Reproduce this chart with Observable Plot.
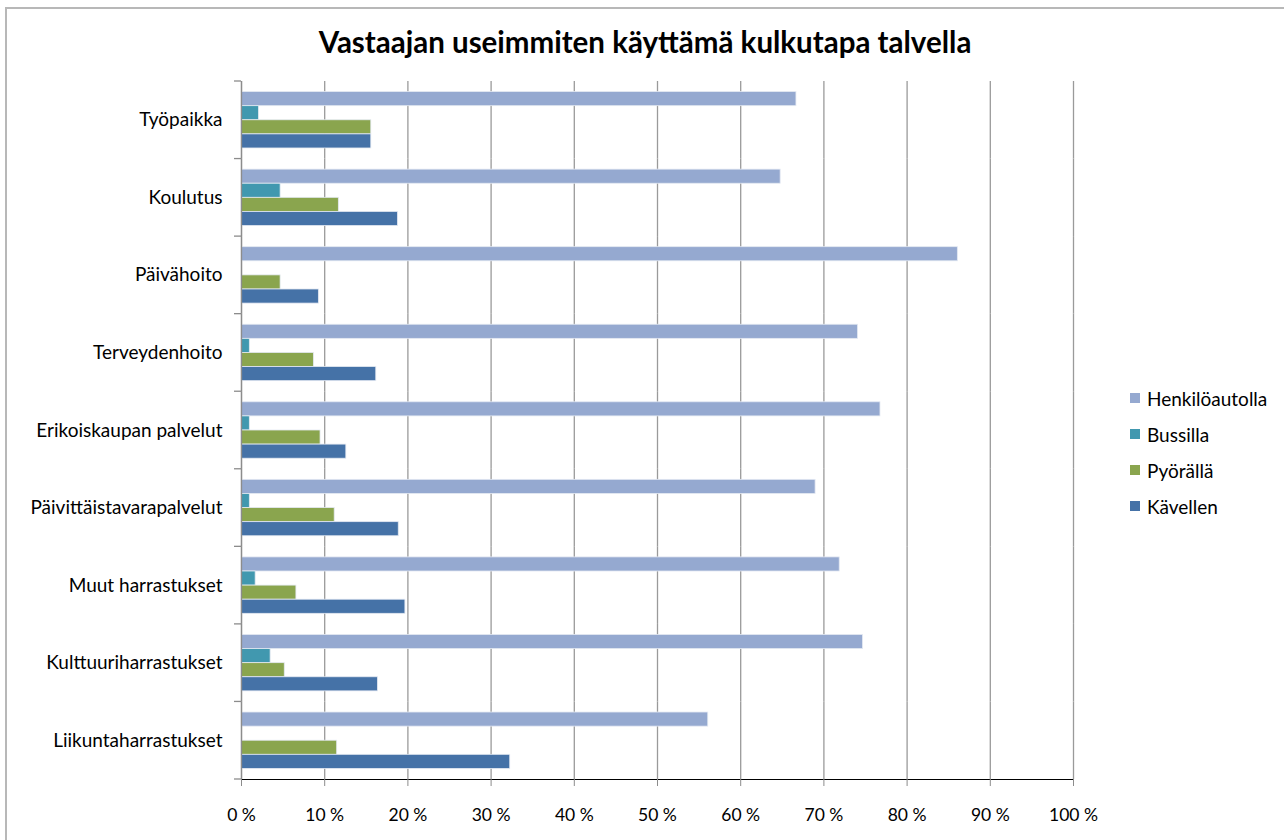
<!DOCTYPE html>
<html>
<head>
<meta charset="utf-8">
<script src="https://cdn.jsdelivr.net/npm/d3@7"></script>
<script src="https://cdn.jsdelivr.net/npm/@observablehq/plot@0.6"></script>
<style>
  body { margin: 0; background: #fff; }
  #wrap { position: relative; width: 1284px; height: 840px; overflow: hidden; font-family: Lato, "Open Sans", sans-serif; }
  #border { position: absolute; left: 5px; top: 7px; width: 1400px; height: 1000px; border-left: 2px solid #b8b8b8; border-top: 2px solid #b8b8b8; }
  #title { position: absolute; left: 0; top: 25px; width: 1290px; text-align: center; font-size: 29.5px; font-weight: bold; line-height: 34px; color: #000; }
  #chart { position: absolute; left: 0; top: 77px; }
  #legend { position: absolute; left: 1130px; top: 380px; font-size: 19px; color: #000; }
  #legend .row { display: flex; align-items: center; height: 36px; }
  #legend .sw { width: 10px; height: 10px; margin-right: 7px; }
  #chart svg text { fill: #000; }
  #chart svg [aria-label^="fy-axis"] text { font-size: 19px; }
  #chart svg [aria-label^="x-axis"] text { font-size: 17.5px; }
  #chart svg [aria-label^="x-axis"] path,
  #chart svg [aria-label^="x-axis"] line { stroke: #8c8c8c; stroke-opacity: 1; }
</style>
</head>
<body>
<div id="wrap">
  <div id="border"></div>
  <div id="title"></div>
  <div id="chart"></div>
  <div id="legend"></div>
</div>
<script>
const titleText = "Vastaajan useimmiten käyttämä kulkutapa talvella";
const categories = ["Työpaikka", "Koulutus", "Päivähoito", "Terveydenhoito", "Erikoiskaupan palvelut", "Päivittäistavarapalvelut", "Muut harrastukset", "Kulttuuriharrastukset", "Liikuntaharrastukset"];
const seriesNames = ["Henkilöautolla", "Bussilla", "Pyörällä", "Kävellen"];
const henkiloautolla = [66.7, 64.8, 86.1, 74.1, 76.8, 69.0, 71.9, 74.7, 56.1];
const bussilla = [2.1, 4.7, 0, 1.0, 1.0, 1.0, 1.7, 3.5, 0];
const pyoralla = [15.6, 11.7, 4.7, 8.7, 9.5, 11.2, 6.6, 5.2, 11.5];
const kavellen = [15.6, 18.8, 9.3, 16.2, 12.6, 18.9, 19.7, 16.4, 32.3];
const seriesColors = ["#95a9d0", "#4198af", "#8aa54e", "#4572a7"];
const xTicks = [0, 10, 20, 30, 40, 50, 60, 70, 80, 90, 100];

const seriesValues = [henkiloautolla, bussilla, pyoralla, kavellen];
const data = [];
categories.forEach((c, i) => {
  seriesNames.forEach((s, j) => {
    data.push({category: c, series: s, value: seriesValues[j][i]});
  });
});

document.getElementById("title").textContent = titleText;

const chart = Plot.plot({
  width: 1284,
  height: 763,
  marginTop: 4,
  marginBottom: 61,
  marginLeft: 241,
  marginRight: 211,
  style: {fontFamily: "Lato, 'Open Sans', sans-serif", fontSize: "17px", background: "transparent", overflow: "visible"},
  x: {domain: [0, 100], ticks: xTicks, tickFormat: d => d + " %", tickSize: 7, tickPadding: 22, line: true, label: null},
  y: {domain: seriesNames, paddingInner: 0, paddingOuter: 0.75, axis: null, round: false},
  fy: {domain: categories, padding: 0, label: null, tickSize: 0, tickPadding: 19, round: false},
  color: {domain: seriesNames, range: seriesColors},
  facet: {data: data, y: "category", label: null},
  marks: [
    Plot.ruleX(xTicks, {stroke: "#9a9a9a", strokeWidth: 1.3}),
    Plot.barX(data, {x: "value", y: "series", fill: "series", stroke: "#e4e9f2", strokeWidth: 0.8, inset: 0}),
    Plot.ruleX([0], {stroke: "#8c8c8c", strokeWidth: 1.3})
  ]
});
document.getElementById("chart").appendChild(chart);

// boundary ticks on the category axis, positioned from Plot's fy scale
const svg = d3.select(chart.tagName.toLowerCase() === "svg" ? chart : chart.querySelector("svg"));
const fyS = chart.scale("fy");
const xS = chart.scale("x");
const band = d3.scaleBand().domain(fyS.domain).range(fyS.range).paddingInner(0).paddingOuter(0);
const x0 = xS.range[0];
const bounds = [band(categories[0])].concat(categories.map(c => band(c) + band.bandwidth()));
svg.append("g").selectAll("line").data(bounds).join("line")
  .attr("x1", x0 - 7).attr("x2", x0)
  .attr("y1", d => d).attr("y2", d => d)
  .attr("stroke", "#8c8c8c").attr("stroke-width", 1.3);

// legend from the color scale
const colorS = chart.scale("color");
const legend = d3.select("#legend");
colorS.domain.forEach((name, i) => {
  const row = legend.append("div").attr("class", "row");
  row.append("div").attr("class", "sw").style("background", colorS.range[i]);
  row.append("span").text(name);
});
</script>
</body>
</html>
